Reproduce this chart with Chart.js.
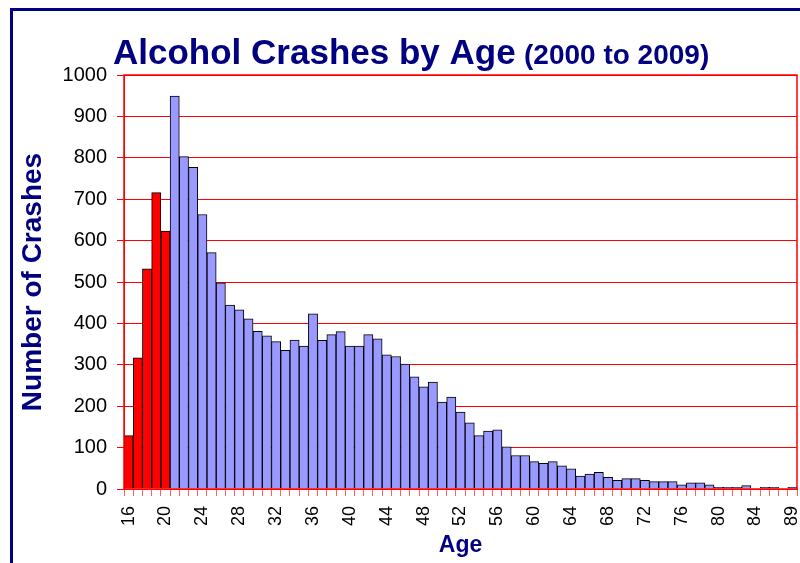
<!DOCTYPE html>
<html>
<head>
<meta charset="utf-8">
<script src="https://cdn.jsdelivr.net/npm/chart.js@4"></script>
<style>
  body { margin: 0; background: #fff; }
  canvas { display: block; }
</style>
</head>
<body>
<canvas id="ageChart" width="800" height="563"></canvas>
<script>
// ages on the axis (no 88 in the source table)
const ages = [16, 17, 18, 19, 20, 21, 22, 23, 24, 25, 26, 27, 28, 29, 30, 31, 32, 33, 34, 35,
  36, 37, 38, 39, 40, 41, 42, 43, 44, 45, 46, 47, 48, 49, 50, 51, 52, 53, 54, 55,
  56, 57, 58, 59, 60, 61, 62, 63, 64, 65, 66, 67, 68, 69, 70, 71, 72, 73, 74, 75,
  76, 77, 78, 79, 80, 81, 82, 83, 84, 85, 86, 87, 89];
const crashes = [129, 317, 532, 716, 623, 949, 803, 777, 663, 571, 498, 444, 433, 411, 381, 370, 356, 335, 360, 345,
  423, 359, 373, 380, 345, 345, 373, 363, 324, 320, 302, 271, 247, 258, 210, 222, 186, 160, 129, 140,
  143, 102, 81, 81, 66, 62, 66, 56, 49, 31, 36, 40, 28, 21, 25, 25, 21, 18, 18, 18,
  10, 15, 15, 10, 4, 4, 4, 8, 0, 4, 4, 0, 4];
const yTicks = [0, 100, 200, 300, 400, 500, 600, 700, 800, 900, 1000];
const underageLimit = 21; // under 21 drawn in red

const NAVY = "#000080";
const RED = "#ff0000";

// frame, title and red plot border
const decor = {
  id: "decor",
  beforeDraw(chart) {
    const ctx = chart.ctx;
    ctx.save();
    ctx.fillStyle = NAVY;
    ctx.fillRect(10, 8, 800, 3);
    ctx.fillRect(10, 8, 3, 563);
    ctx.textBaseline = "alphabetic";
    ctx.textAlign = "left";
    ctx.font = "bold 35px 'Liberation Sans', Arial, sans-serif";
    ctx.fillText("Alcohol Crashes by Age", 113, 64);
    ctx.font = "bold 28px 'Liberation Sans', Arial, sans-serif";
    ctx.fillText("(2000 to 2009)", 524, 64);
    ctx.restore();
  },
  afterDatasetsDraw(chart) {
    const a = chart.chartArea;
    const ctx = chart.ctx;
    ctx.save();
    ctx.strokeStyle = RED;
    ctx.lineWidth = 1.5;
    ctx.strokeRect(a.left, a.top, a.right - a.left, a.bottom - a.top);
    ctx.restore();
  }
};

new Chart(document.getElementById("ageChart"), {
  type: "bar",
  data: {
    labels: ages,
    datasets: [{
      data: crashes,
      backgroundColor: ages.map((a) => (a < underageLimit ? RED : "#9999ff")),
      borderColor: "#000000",
      borderWidth: 1,
      barPercentage: 1,
      categoryPercentage: 1
    }]
  },
  options: {
    responsive: false,
    animation: false,
    layout: { padding: { top: 75, right: 3, left: 0, bottom: 0 } },
    plugins: {
      legend: { display: false },
      tooltip: { enabled: false }
    },
    scales: {
      x: {
        afterFit: (s) => {
          s.height = 74;
          s.paddingLeft = 0;
          s.paddingRight = 0;
        },
        grid: {
          offset: true,
          drawOnChartArea: false,
          color: "#ff6060",
          tickLength: 7
        },
        border: { color: RED },
        ticks: {
          autoSkip: false,
          minRotation: 90,
          maxRotation: 90,
          padding: 10,
          color: "#000",
          font: { family: "'Liberation Sans', Arial, sans-serif", size: 18 },
          callback: (v, i) => (i % 4 === 0 ? ages[i] : "")
        },
        title: {
          display: true,
          text: "Age",
          color: NAVY,
          padding: { top: 0, bottom: 4 },
          font: { family: "'Liberation Sans', Arial, sans-serif", size: 23, weight: "bold" }
        }
      },
      y: {
        min: 0,
        max: 1000,
        afterFit: (s) => {
          s.width = 124;
          s.paddingTop = 0;
          s.paddingBottom = 0;
        },
        afterBuildTicks: (s) => { s.ticks = yTicks.map((v) => ({ value: v })); },
        grid: { color: RED, tickLength: 7 },
        border: { color: RED },
        ticks: {
          padding: 10,
          color: "#000",
          font: { family: "'Liberation Sans', Arial, sans-serif", size: 20 },
          callback: (v) => String(v)
        },
        title: {
          display: true,
          text: "Number of Crashes",
          color: NAVY,
          padding: { top: 16, bottom: 0 },
          font: { family: "'Liberation Sans', Arial, sans-serif", size: 28, weight: "bold" }
        }
      }
    }
  },
  plugins: [decor]
});
</script>
</body>
</html>
